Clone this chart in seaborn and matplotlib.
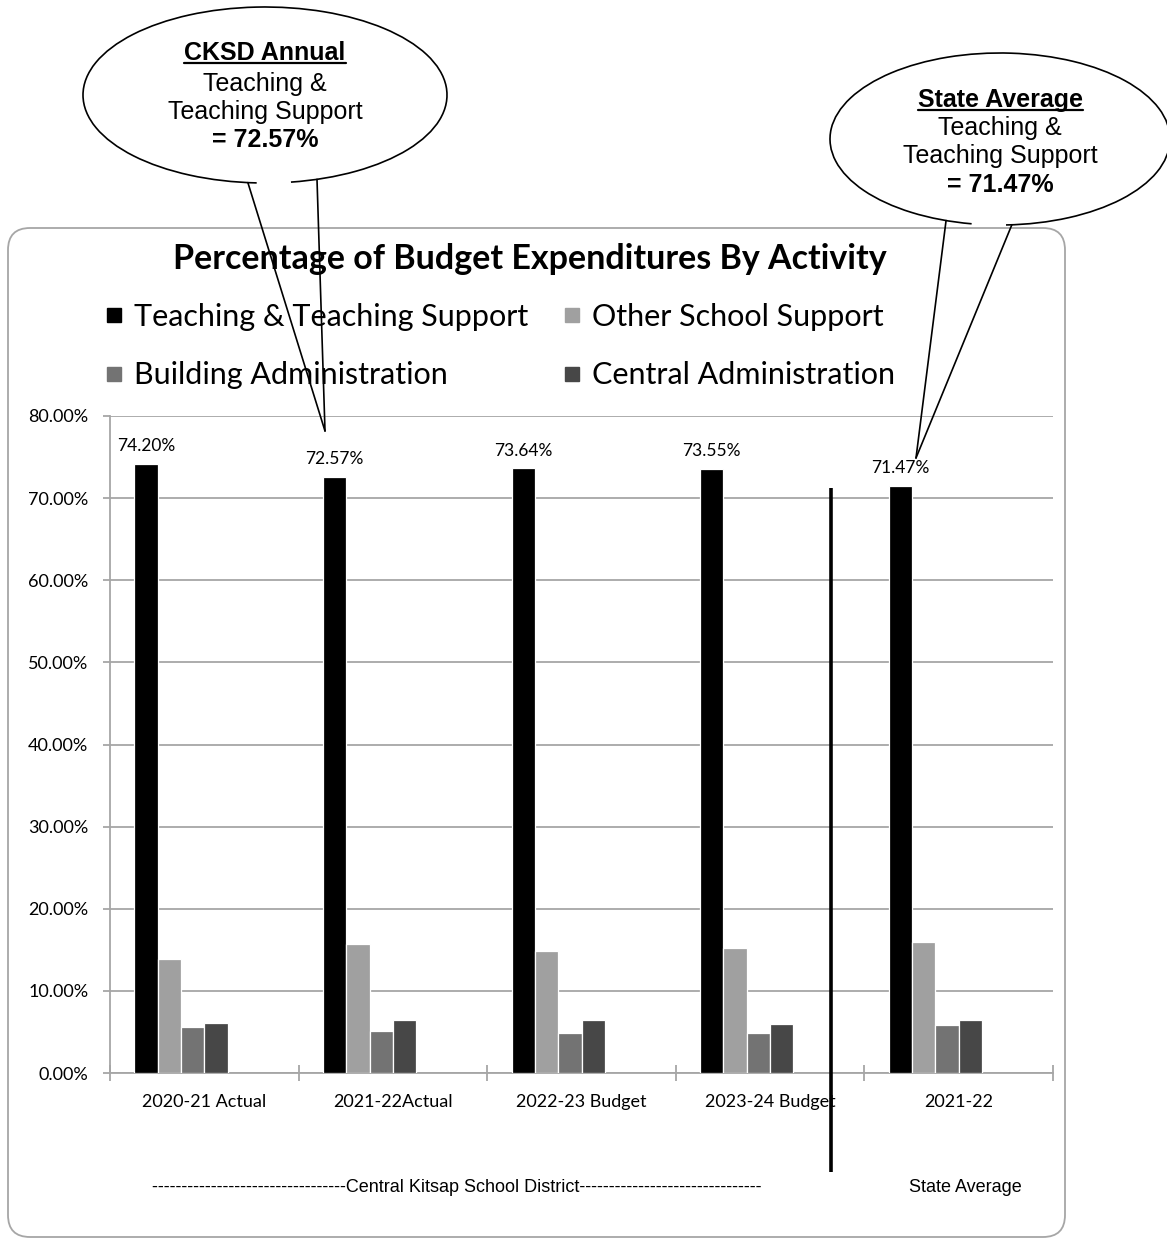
import numpy as np
import pandas as pd
import matplotlib
matplotlib.use("Agg")
import matplotlib.pyplot as plt
import seaborn as sns
from matplotlib.patches import Ellipse, Arc, FancyBboxPatch
from matplotlib.lines import Line2D
from matplotlib.ticker import FuncFormatter, FixedLocator

# ---------------- data ----------------
categories = ["2020-21 Actual", "2021-22Actual", "2022-23 Budget", "2023-24 Budget", "2021-22"]
series_names = ["Teaching & Teaching Support", "Other School Support",
                "Building Administration", "Central Administration"]
teaching = [74.20, 72.57, 73.64, 73.55, 71.47]
other_support = [13.85, 15.67, 14.86, 15.27, 16.00]
building_admin = [5.60, 5.08, 4.83, 4.87, 5.81]
central_admin = [6.13, 6.42, 6.42, 6.01, 6.46]
series_colors = ["#000000", "#a0a0a0", "#737373", "#474747"]
y_ticks = [0, 10, 20, 30, 40, 50, 60, 70, 80]
title = "Percentage of Budget Expenditures By Activity"
cksd_callout = ["CKSD Annual", "Teaching &", "Teaching Support", "= 72.57%"]
state_callout = ["State Average", "Teaching &", "Teaching Support", "= 71.47%"]
group_left = "-" * 33 + "Central Kitsap School District" + "-" * 31
group_right = "State Average"

sns.set_style("white")
plt.rcParams["font.family"] = ["Lato", "DejaVu Sans"]
plt.rcParams["text.color"] = "black"
plt.rcParams["xtick.color"] = "black"
plt.rcParams["ytick.color"] = "black"
plt.rcParams["axes.labelcolor"] = "black"

W, H = 1167, 1245
fig = plt.figure(figsize=(W / 100, H / 100), dpi=100)
fig.patch.set_facecolor("white")

# ---------------- long table ----------------
values = [teaching, other_support, building_admin, central_admin]
rows = []
for name, vals in zip(series_names, values):
    for cat, v in zip(categories, vals):
        rows.append({"category": cat, "series": name, "value": v})
df = pd.DataFrame(rows)

pads = ["_pad1", "_pad2"]
hue_order = series_names + pads
palette = dict(zip(series_names, series_colors))
palette.update({p: "#ffffff" for p in pads})

ax = fig.add_axes([110 / W, 1 - 1073 / H, 943 / W, 657 / H])
sns.barplot(data=df, x="category", y="value", hue="series", hue_order=hue_order,
            order=categories, palette=palette, width=0.742, gap=0,
            edgecolor="white", linewidth=0.9, saturation=1, legend=False,
            errorbar=None, ax=ax, zorder=3)

ax.set_ylim(0, 80)
ax.set_xlim(-0.5, len(categories) - 0.5)
ax.yaxis.set_major_locator(FixedLocator(y_ticks))
ax.yaxis.set_major_formatter(FuncFormatter(lambda v, p: f"{v:.2f}%"))
ax.grid(axis="y", color="#a6a6a6", linewidth=1.3, zorder=0)
ax.set_axisbelow(True)
ax.set_xlabel("")
ax.set_ylabel("")
for s in ["top", "right"]:
    ax.spines[s].set_visible(False)
for s in ["left", "bottom"]:
    ax.spines[s].set_color("#a6a6a6")
    ax.spines[s].set_linewidth(1.3)
ax.tick_params(axis="y", which="major", length=5, width=1.3, color="#a6a6a6",
               labelsize=13, pad=10.5, direction="out", left=True, labelcolor="black")
ax.tick_params(axis="x", which="major", length=0, labelsize=13, pad=15, labelcolor="black")
ax.xaxis.set_minor_locator(FixedLocator(np.arange(len(categories) + 1) - 0.5))
ax.tick_params(axis="x", which="minor", length=12, width=1.3, color="#a6a6a6",
               direction="inout", bottom=True)

# data labels on teaching bars
ax.bar_label(ax.containers[0], labels=[f"{v:.2f}%" for v in teaching],
             padding=7, fontsize=12.5, color="black")

# ---------------- overlay for decorations ----------------
ov = fig.add_axes([0, 0, 1, 1], zorder=10)
ov.set_xlim(0, W)
ov.set_ylim(H, 0)
ov.axis("off")
ov.patch.set_alpha(0)

frame = FancyBboxPatch((8, 228), 1057, 1009, boxstyle="round,pad=0,rounding_size=22",
                       facecolor="none", edgecolor="#a6a6a6", linewidth=1.3)
ov.add_patch(frame)

ov.text(530, 259, title, ha="center", va="center", fontsize=24.5, fontweight="bold",
        color="black")

handles = [Line2D([], [], marker="s", linestyle="none", markersize=10.5,
                  markerfacecolor=c, markeredgecolor=c) for c in series_colors]
order = [0, 2, 1, 3]
fig.legend([handles[i] for i in order], [series_names[i] for i in order], ncol=2,
           loc="center", bbox_to_anchor=(500 / W, 1 - 346 / H), frameon=False,
           fontsize=22, handlelength=0.6, handletextpad=0.35, columnspacing=1.15,
           labelspacing=1.0, borderpad=0)

# group labels and separator
ov.text(457, 1188, group_left, ha="center", va="center", fontsize=13,
        family=["Liberation Sans", "DejaVu Sans"], color="black")
ov.text(965, 1188, group_right, ha="center", va="center", fontsize=13,
        family=["Liberation Sans", "DejaVu Sans"], color="black")
ov.plot([831, 831], [488, 1172], color="black", linewidth=2.6, solid_capstyle="butt")


def callout(cx, cy, a, b, th_left, th_right, tip, lines, ys):
    ov.add_patch(Ellipse((cx, cy), 2 * a, 2 * b, facecolor="white", edgecolor="none",
                         zorder=5))
    ov.add_patch(Arc((cx, cy), 2 * a, 2 * b, theta1=th_left, theta2=th_right + 360,
                     edgecolor="black", linewidth=1.2, zorder=6))
    for th in (th_left, th_right):
        bx = cx + a * np.cos(np.radians(th))
        by = cy + b * np.sin(np.radians(th))
        ov.plot([bx, tip[0]], [by, tip[1]], color="black", linewidth=1.2, zorder=6)
    texts = []
    for i, (t, y) in enumerate(zip(lines, ys)):
        bold = i in (0, len(lines) - 1)
        texts.append(ov.text(cx, y, t, ha="center", va="center", fontsize=18,
                             fontweight="bold" if bold else "normal", color="black",
                             family=["Liberation Sans", "DejaVu Sans"], zorder=7))
    return texts[0]


t1 = callout(265, 95, 182, 88, 95.4, 73.4, (325, 431), cksd_callout, [53, 84, 112, 140])
t2 = callout(1000, 139, 170, 86, 108.5, 86.0, (916, 458), state_callout, [100, 128, 156, 185])

fig.canvas.draw()
renderer = fig.canvas.get_renderer()
inv = ov.transData.inverted()
for t in (t1, t2):
    bb = t.get_window_extent(renderer)
    (x0, y0) = inv.transform((bb.x0, bb.y0 + 2))
    (x1, _) = inv.transform((bb.x1, bb.y0 + 2))
    ov.plot([x0, x1], [y0, y0], color="black", linewidth=1.6, zorder=7)

fig.savefig("out.png", dpi=100, facecolor="white")
